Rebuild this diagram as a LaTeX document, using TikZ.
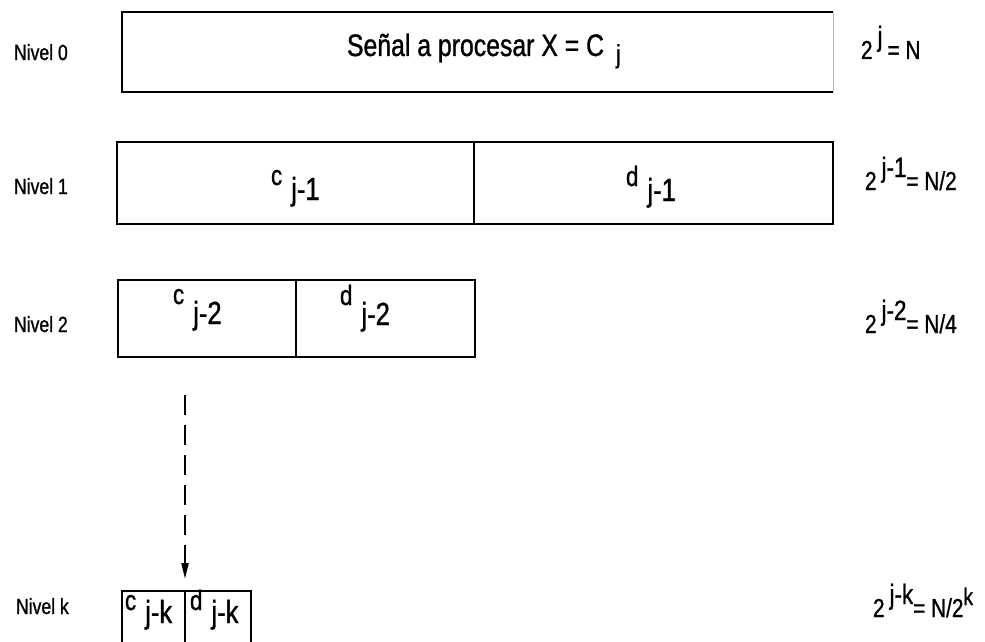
\documentclass[tikz,border=0pt]{standalone}
\usepackage{fontspec}
\setmainfont{Liberation Sans}[FakeStretch=0.8,FakeBold=1]
\usetikzlibrary{arrows.meta}
\newcommand\fs[1]{\fontsize{#1}{#1}\selectfont}
\newcommand\sublbl[3][15pt]{{\fs{28}#2}\hspace{9pt}\raisebox{-#1}{\fs{32}#3}}
\newcommand\powlbl[2]{{\fs{26}2}\hspace{5pt}\raisebox{13pt}{\fs{28}#1}{\fs{26}#2}}
\begin{document}
\begin{tikzpicture}[x=1pt,y=-1pt,line width=2pt,
  cell/.style={minimum width=#1, inner sep=0pt, outer sep=0pt, anchor=north west},
  drawn/.style={draw},
  txt/.style={inner sep=0pt, anchor=base west},
  lvl/.style={inner sep=0pt, anchor=base west, font=\fs{22}},
  flow/.style={dash pattern=on 20pt off 10pt, -{Triangle[width=7pt,length=16pt]}}]
\useasboundingbox (0,0) rectangle (985,642);
\clip (0,0) rectangle (985,642);
\fill[white] (0,0) rectangle (985,642);
\coordinate (bot) at (0,642);
% Level 0
\node[cell=711pt, minimum height=80pt] (b0) at (122,12) {};
\draw (b0.north east) -- (b0.north west) -- (b0.south west) -- (b0.south east);
\draw[gray!55, line width=1pt] (b0.north east) -- (b0.south east);
% Level 1
\node[cell=357pt, minimum height=82pt, drawn] (c1) at (117,142) {};
\node[cell=359pt, minimum height=82pt, drawn] (d1) at (c1.north east) {};
% Level 2
\node[cell=178pt, minimum height=77pt, drawn] (c2) at (118,280) {};
\node[cell=179pt, minimum height=77pt, drawn] (d2) at (c2.north east) {};
% Level k
\node[cell=63pt, minimum height=60pt] (ck) at (122,591) {};
\node[cell=66pt, minimum height=60pt] (dk) at (ck.north east) {};
\draw (ck.north west |- bot) -- (ck.north west) -- (dk.north east) -- (dk.north east |- bot);
\draw (ck.north east) -- (ck.north east |- bot);
% arrow
\coordinate (atop) at (185,395);
\draw[flow, shorten >=12pt] (atop) -- (ck.north east);
% box texts
\node[txt] (t0) at (346,56) {\fs{31}Señal a procesar X = C\hspace{12pt}\raisebox{-7pt}{\fs{26}j}};
\node[txt] (tc1) at (270,185) {\sublbl{c}{j-1}};
\node[txt] (td1) at (625,186) {\sublbl{d}{j-1}};
\node[txt] (tc2) at (172,304) {\sublbl[20pt]{c}{j-2}};
\node[txt] (td2) at (339,305) {\sublbl[20pt]{d}{j-2}};
\node[txt] (tck) at (124,610) {\sublbl[13pt]{c}{j-k}};
\node[txt] (tdk) at (189,610) {\sublbl[13pt]{d}{j-k}};
% level labels
\node[lvl] (n0) at (13,60) {Nivel 0};
\node[lvl] (n1) at (13,194) {Nivel 1};
\node[lvl] (n2) at (13,332) {Nivel 2};
\node[lvl] (nk) at (15,614) {Nivel k};
% size labels
\node[txt] (p0) at (860,59) {\powlbl{j}{\hspace{5pt}= N}};
\node[txt] (p1) at (864,190) {\powlbl{j-1}{= N/2}};
\node[txt] (p2) at (864,333) {\powlbl{j-2}{= N/4}};
\node[txt] (pk) at (872,617) {\powlbl{j-k}{= N/2\raisebox{12pt}{\fs{24}k}}};
\end{tikzpicture}
\end{document}
